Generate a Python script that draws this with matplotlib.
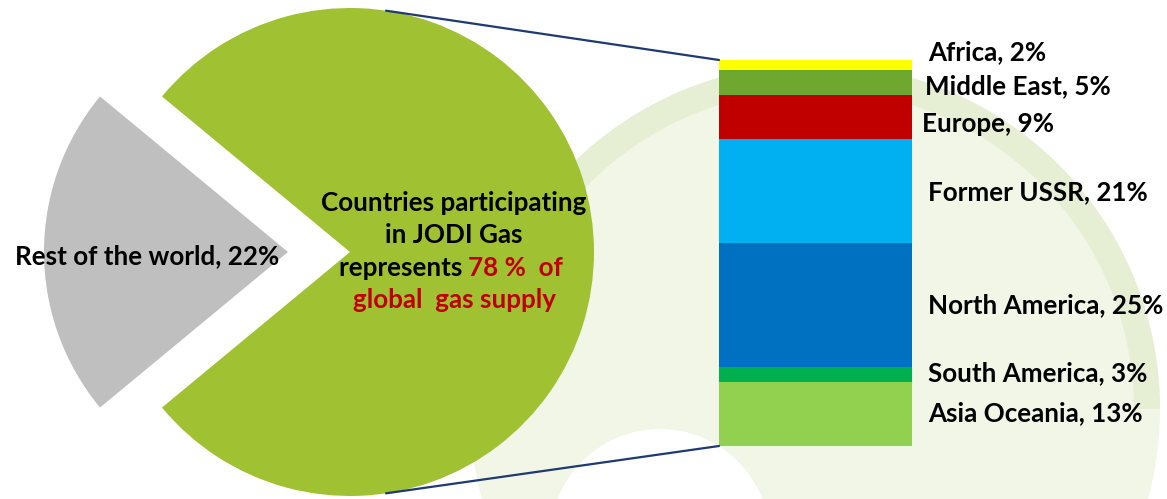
import numpy as np
import matplotlib
matplotlib.use("Agg")
import matplotlib.pyplot as plt
from matplotlib.patches import Circle, Wedge, ConnectionPatch

plt.rcParams['font.family'] = ['Lato', 'DejaVu Sans']
plt.rcParams['font.weight'] = 'bold'

# pie: participating countries vs rest of the world
pie_labels = ['Countries participating', 'Rest of the world']
pie_values = [78, 22]
pie_colors = ['#A0C132', '#BFBFBF']

# bar: split of the 78 %, bottom to top
regions = ['Asia Oceania', 'South America', 'North America', 'Former USSR',
           'Europe', 'Middle East', 'Africa']
shares = [13, 3, 25, 21, 9, 5, 2]
bar_colors = ['#92D050', '#00B050', '#0070C0', '#00B0F0', '#C00000', '#70A72F', '#FFFF00']

W, H = 1167, 499
fig = plt.figure(figsize=(W / 100, H / 100), dpi=100)

# faint watermark behind everything
bg = fig.add_axes([0, 0, 1, 1], zorder=0)
bg.set_xlim(0, W)
bg.set_ylim(0, H)
bg.axis('off')
bg.add_patch(Circle((815, 90), 345, color='#F1F6E7', lw=0))
bg.add_patch(Wedge((815, 90), 345, 0, 180, width=26, color='#E6EED4', lw=0))
bg.add_patch(Circle((660, -40), 110, color='white', lw=0))

# ---- pie ----
R = 244            # pie radius in px
cx, cy = 350, 247  # pie centre in px
S = 340
ax_pie = fig.add_axes([(cx - S) / W, (cy - S) / H, 2 * S / W, 2 * S / H], zorder=2)
start = 180 + pie_values[1] * 3.6 / 2
ax_pie.pie(pie_values, colors=pie_colors, startangle=start, counterclock=True,
           explode=[0, 62 / R], wedgeprops=dict(linewidth=0))
ax_pie.set_aspect('equal')
ax_pie.set_xlim(-S / R, S / R)
ax_pie.set_ylim(-S / R, S / R)
ax_pie.axis('off')

fs = 18.7
ax_pie.text(-0.83, -0.016, 'Rest of the world, 22%', ha='center', va='center', fontsize=fs)
ax_pie.text(0.426, 0.20, 'Countries participating', ha='center', va='center', fontsize=fs)
ax_pie.text(0.426, 0.07, 'in JODI Gas', ha='center', va='center', fontsize=fs)
ax_pie.text(0.485, -0.066, 'represents ', ha='right', va='center', fontsize=fs)
ax_pie.text(0.485, -0.066, '78 %  of', ha='left', va='center', fontsize=fs, color='#C00000')
ax_pie.text(0.43, -0.197, 'global  gas supply', ha='center', va='center', fontsize=fs,
            color='#C00000')

# ---- stacked bar ----
ax_bar = fig.add_axes([719 / W, (H - 446) / H, 193 / W, 386 / H], zorder=2)
bottom = 0
for name, v, c in zip(regions, shares, bar_colors):
    ax_bar.bar(0, v, width=1, bottom=bottom, color=c, linewidth=0)
    bottom += v
ax_bar.set_xlim(-0.5, 0.5)
ax_bar.set_ylim(0, sum(shares))
ax_bar.axis('off')

# labels, nudged apart where segments are thin
label_dy = [0.2, 0.25, -0.1, -0.3, -1.4, -0.8, 2.5]
label_dx = [0.583, 0.583, 0.583, 0.583, 0.55, 0.568, 0.583]
cum = np.cumsum([0] + shares[:-1])
for name, v, b, dy, dx in zip(regions, shares, cum, label_dy, label_dx):
    ax_bar.text(dx, b + v / 2 + dy, f'{name}, {v}%', ha='left', va='center',
                fontsize=fs, clip_on=False)

# connector lines from the pie to the bar
th = np.deg2rad(81.5)
for sgn, yb in [(1, sum(shares)), (-1, 0)]:
    con = ConnectionPatch(xyA=(np.cos(th), sgn * np.sin(th)), coordsA=ax_pie.transData,
                          xyB=(-0.5, yb), coordsB=ax_bar.transData,
                          color='#1F3A70', lw=1.6, zorder=3)
    fig.add_artist(con)

fig.savefig('out.png', dpi=100, facecolor='white')
